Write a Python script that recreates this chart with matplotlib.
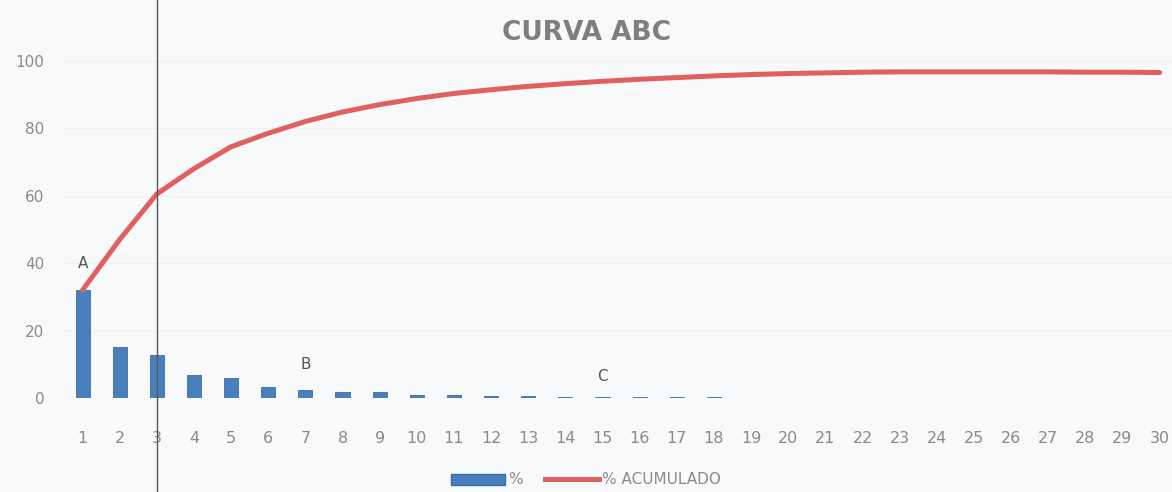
import matplotlib
matplotlib.use("Agg")
import matplotlib.pyplot as plt
from matplotlib.lines import Line2D
from matplotlib.patches import Patch

# data
items = list(range(1, 31))
pct = [32, 15, 12.8, 6.8, 6.0, 3.3, 2.4, 1.8, 1.8, 1.0, 1.0, 0.6, 0.5, 0.4, 0.3,
       0.3, 0.2, 0.2, 0.1, 0.1, 0.1, 0.1, 0.1, 0.05, 0.05, 0.05, 0.05, 0.05, 0.05, 0.05]
pct_acum = [32, 47, 60.5, 68, 74.5, 78.5, 82, 84.8, 87, 88.8, 90.3, 91.4, 92.4, 93.2, 93.9,
            94.5, 95.0, 95.5, 95.9, 96.2, 96.4, 96.6, 96.7, 96.7, 96.7, 96.7, 96.7, 96.6, 96.6, 96.5]
yticks = [0, 20, 40, 60, 80, 100]
zones = [("A", 1, 40), ("B", 7, 10), ("C", 15, 6.5)]
cut_item = 3

BG = "#f8f9fb"
BAR = "#4a7fbd"
LINE = "#e06060"
TXT = "#8a8a8a"

fig = plt.figure(figsize=(11.72, 4.92), dpi=100, facecolor=BG)
ax = fig.add_axes([64 / 1172, 94 / 492, (1172 - 64) / 1172, 371 / 492], facecolor=BG)

ax.bar(items, pct, width=0.38, color=BAR, edgecolor="#3a6ca8", linewidth=0.6, zorder=2)
ax.plot(items, pct_acum, color=LINE, lw=3.6, solid_capstyle="round", zorder=3)

for lab, x, y in zones:
    ax.text(x, y, lab, ha="center", va="center", fontsize=11, color="#555555")

ax.set_xlim(0.5, 0.5 + (1172 - 64) / 37.14)
ax.set_ylim(0, 110)
ax.set_xticks(items)
ax.set_yticks(yticks)
ax.tick_params(axis="x", length=0, pad=24, labelsize=11.5, labelcolor=TXT)
ax.tick_params(axis="y", length=0, pad=14, labelsize=11, labelcolor=TXT)
ax.grid(axis="y", color="#f0f0f3", lw=0.8, zorder=0)
for s in ax.spines.values():
    s.set_visible(False)

# vertical cut line across the whole picture
xf = ax.transData.transform((cut_item, 0))[0] / fig.bbox.width
fig.add_artist(Line2D([xf, xf], [0, 1], transform=fig.transFigure, color="#555555", lw=1.0))

fig.text(587 / 1172, 1 - 33 / 492, "CURVA ABC", ha="center", va="center",
         fontsize=19, fontweight="bold", color="#7f7f7f")

handles = [Patch(facecolor=BAR, edgecolor="#3a6ca8"),
           Line2D([0], [0], color=LINE, lw=3.6)]
fig.legend(handles, ["%", "% ACUMULADO"], loc="center", bbox_to_anchor=(0.5, 1 - 480 / 492),
           ncol=2, frameon=False, fontsize=11, labelcolor=TXT, handlelength=3.5,
           handletextpad=0.2, columnspacing=1.5)

fig.savefig("out.png", dpi=100, facecolor=BG)
